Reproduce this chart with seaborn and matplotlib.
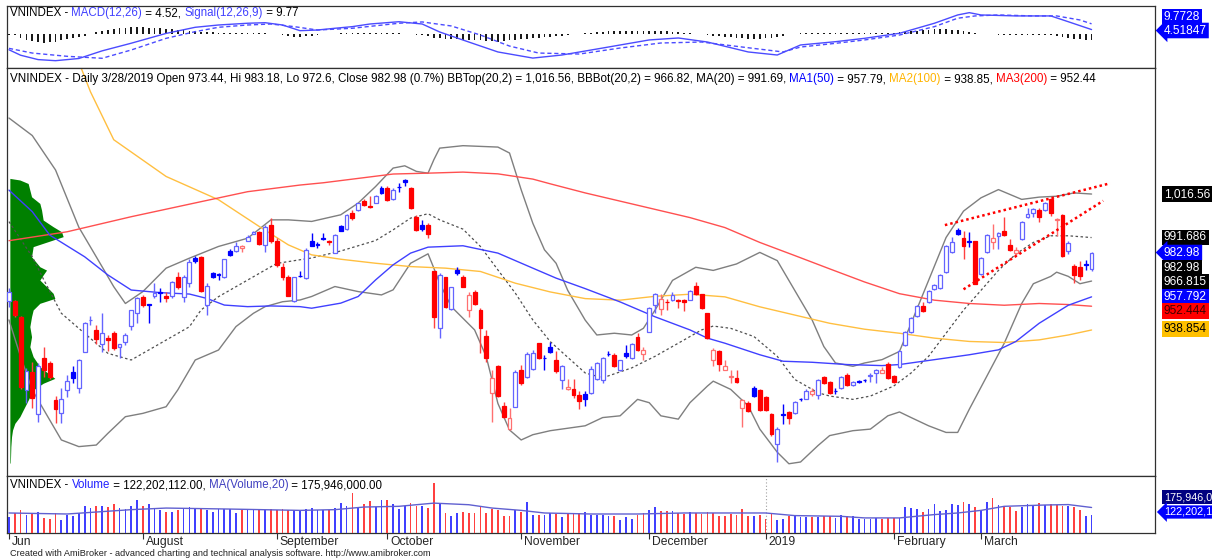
import numpy as np
import matplotlib
matplotlib.use("Agg")
import matplotlib.pyplot as plt
import seaborn as sns
from matplotlib.transforms import ScaledTranslation

# ---------------- data ----------------
open_ = [955.6, 955.6, 946.5, 904.6, 915.0, 891.0, 922.7, 920.0, 899.0, 891.6,
         904.6, 914.6, 905.5, 926.5, 944.5, 939.0, 931.0, 934.0, 937.0, 929.3,
         932.0, 941.0, 948.4, 957.9, 953.6, 958.0, 960.3, 958.3, 958.3, 969.0,
         957.5, 965.5, 979.8, 980.7, 953.1, 971.6, 970.5, 969.0, 984.0, 984.2,
         985.5, 990.0, 994.0, 995.0, 987.4, 999.0, 990.0, 975.0, 969.0, 955.7,
         969.8, 968.5, 990.0, 987.8, 991.0, 989.6, 983.0, 998.4, 996.5, 1006.0,
         1007.2, 1012.3, 1009.6, 1011.7, 1019.9, 1019.9, 1013.7, 1020.6, 1024.7, 1019.9,
         1003.7, 999.0, 999.0, 972.3, 939.9, 969.0, 950.7, 973.2, 969.4, 950.3,
         960.8, 950.3, 935.5, 902.7, 918.3, 895.4, 882.1, 895.0, 916.0, 911.8,
         916.4, 931.3, 923.1, 929.0, 921.9, 910.2, 904.9, 904.9, 901.5, 902.1,
         903.0, 910.6, 910.2, 925.4, 924.7, 916.2, 925.7, 922.8, 935.1, 925.3,
         937.9, 953.0, 950.6, 955.0, 956.2, 955.9, 956.2, 956.2, 963.8, 959.3,
         948.3, 921.9, 926.6, 916.2, 911.9, 911.5, 894.5, 897.3, 905.8, 904.5,
         900.7, 890.7, 873.7, 890.8, 892.1, 891.3, 899.4, 899.6, 902.4, 901.5,
         912.1, 909.0, 904.1, 905.8, 913.4, 907.2, 909.5, 910.1, 912.4, 914.3,
         914.2, 919.6, 912.8, 917.7, 930.4, 937.9, 946.8, 952.5, 954.9, 962.5,
         963.0, 971.9, 983.2, 995.9, 991.4, 989.6, 989.5, 970.6, 983.2, 988.9,
         992.7, 995.5, 987.6, 983.1, 990.8, 1003.4, 1005.9, 1007.2, 1007.2, 1013.5,
         1001.5, 1004.6, 984.2, 975.7, 974.7, 976.3, 973.44]
high = [962.7, 956.0, 947.0, 917.0, 920.8, 920.0, 929.3, 921.0, 901.0, 905.5,
        913.0, 918.0, 922.0, 943.6, 947.0, 941.7, 948.8, 936.0, 938.0, 931.0,
        937.0, 950.3, 957.9, 958.8, 953.9, 965.5, 962.7, 960.7, 966.8, 972.2,
        970.3, 979.2, 981.0, 981.1, 965.5, 972.2, 971.6, 979.3, 985.0, 989.3,
        987.4, 993.1, 995.4, 995.4, 998.8, 1002.7, 991.5, 977.0, 970.4, 969.4,
        972.3, 985.6, 994.2, 989.4, 994.2, 990.4, 993.6, 999.0, 1005.3, 1007.5,
        1011.7, 1013.7, 1015.6, 1016.1, 1020.9, 1020.9, 1019.9, 1022.8, 1025.1, 1020.5,
        1004.7, 1001.8, 999.9, 972.8, 971.3, 969.4, 963.7, 974.6, 970.4, 960.8,
        961.8, 951.3, 938.9, 916.0, 918.9, 897.9, 894.1, 916.0, 918.9, 926.5,
        927.5, 931.6, 924.6, 932.2, 926.6, 919.0, 910.6, 910.6, 904.0, 904.0,
        918.1, 920.4, 923.4, 926.6, 925.7, 921.9, 930.4, 931.3, 937.0, 929.0,
        952.1, 960.0, 959.6, 956.8, 960.6, 956.8, 956.8, 961.5, 966.3, 959.7,
        948.7, 928.5, 927.2, 921.9, 916.2, 916.2, 899.6, 898.3, 906.8, 904.9,
        901.1, 891.3, 883.2, 896.4, 892.6, 898.3, 900.2, 904.9, 905.8, 910.9,
        912.8, 909.6, 905.8, 912.4, 914.0, 909.6, 910.2, 910.9, 914.0, 916.6,
        917.5, 920.4, 913.4, 927.2, 938.5, 946.1, 953.0, 954.9, 961.5, 965.3,
        970.6, 987.6, 992.1, 997.0, 995.5, 994.6, 989.9, 980.4, 994.0, 999.3,
        994.6, 1003.4, 990.8, 986.5, 1001.2, 1008.7, 1008.7, 1008.4, 1012.1, 1014.4,
        1003.0, 1005.3, 989.9, 976.6, 978.5, 978.9, 983.18]
low = [952.2, 946.0, 905.0, 897.0, 894.0, 886.0, 912.2, 911.0, 885.5, 885.5,
       900.7, 908.4, 903.0, 926.0, 941.7, 931.0, 926.5, 927.0, 927.5, 922.7,
       930.3, 938.8, 942.7, 952.0, 942.7, 957.0, 955.0, 955.0, 957.0, 962.0,
       955.0, 963.6, 977.0, 960.7, 947.4, 968.3, 967.4, 968.8, 981.0, 983.6,
       983.6, 989.9, 993.7, 987.4, 983.6, 988.7, 975.0, 967.5, 958.0, 955.0,
       969.0, 968.0, 986.6, 986.0, 990.4, 987.5, 982.8, 995.2, 996.1, 1001.8,
       1007.0, 1009.5, 1008.5, 1011.4, 1016.7, 1012.3, 1013.3, 1018.0, 1020.9, 1008.0,
       995.7, 995.7, 991.3, 939.9, 934.1, 951.3, 950.3, 970.4, 963.3, 946.5,
       953.2, 925.5, 920.8, 886.5, 900.7, 888.4, 881.7, 894.6, 907.4, 911.2,
       916.0, 922.1, 916.0, 925.6, 914.3, 904.9, 904.5, 900.2, 893.9, 895.5,
       902.1, 910.2, 908.7, 923.8, 917.7, 915.3, 922.8, 922.3, 926.6, 921.9,
       937.6, 948.3, 947.4, 950.2, 955.5, 951.7, 949.8, 955.9, 958.7, 951.1,
       933.6, 918.1, 915.3, 915.8, 908.7, 908.7, 883.2, 892.0, 900.7, 892.6,
       892.6, 878.5, 863.4, 885.1, 885.1, 890.7, 898.3, 899.2, 901.1, 899.6,
       907.7, 902.1, 902.1, 905.3, 906.8, 906.8, 908.7, 909.0, 909.0, 908.7,
       914.0, 910.9, 908.7, 917.2, 929.8, 937.4, 946.4, 949.3, 954.4, 961.9,
       962.5, 971.3, 982.7, 993.3, 979.5, 986.5, 964.9, 970.0, 982.7, 985.1,
       985.1, 992.7, 984.2, 981.4, 990.2, 1003.1, 1003.4, 1000.8, 1006.8, 1004.0,
       992.7, 980.8, 982.3, 965.7, 967.2, 972.9, 972.6]
close = [960.7, 947.4, 906.5, 915.6, 900.0, 918.0, 916.0, 912.0, 893.5, 899.2,
         909.9, 911.2, 921.7, 942.7, 944.8, 933.5, 937.0, 933.0, 928.4, 930.6,
         936.0, 950.0, 957.3, 953.1, 953.3, 959.8, 960.0, 957.0, 966.5, 963.2,
         969.0, 977.9, 978.3, 961.3, 964.2, 969.0, 970.3, 979.2, 981.7, 986.8,
         986.6, 992.2, 995.0, 988.0, 997.9, 989.5, 976.0, 969.0, 958.4, 969.0,
         969.5, 984.7, 987.0, 987.6, 990.9, 989.4, 993.3, 995.7, 1004.7, 1002.8,
         1011.4, 1010.4, 1009.4, 1015.2, 1017.1, 1012.9, 1019.0, 1020.3, 1023.6, 1008.5,
         996.1, 996.4, 993.8, 946.5, 970.4, 952.2, 963.3, 971.3, 963.7, 958.9,
         953.8, 939.9, 922.7, 911.2, 901.1, 888.9, 888.5, 915.1, 908.4, 925.0,
         925.5, 922.7, 922.8, 926.5, 915.3, 918.5, 906.4, 901.5, 898.3, 899.2,
         916.6, 920.0, 922.8, 925.1, 918.1, 921.5, 923.8, 930.9, 927.5, 927.2,
         951.7, 959.3, 956.8, 954.8, 958.7, 955.7, 954.7, 961.2, 959.3, 951.7,
         934.2, 927.5, 919.6, 918.5, 912.8, 909.0, 898.9, 892.6, 901.1, 893.2,
         892.9, 879.4, 882.2, 890.5, 888.3, 897.7, 899.2, 904.0, 903.8, 910.2,
         908.3, 902.6, 903.9, 912.1, 907.2, 909.0, 909.4, 910.0, 913.4, 916.2,
         915.9, 911.5, 909.0, 926.6, 937.9, 945.5, 952.5, 949.8, 961.2, 964.4,
         970.0, 987.0, 988.9, 994.0, 987.0, 989.4, 965.3, 980.0, 993.3, 991.7,
         994.2, 993.3, 984.6, 984.3, 1000.8, 1005.0, 1007.8, 1003.4, 1011.6, 1005.9,
         1002.1, 981.4, 988.3, 970.0, 969.5, 976.1, 982.98]
volume_m = [108, 138, 156, 122, 131, 142, 104, 97, 138, 92,
            127, 115, 138, 184, 172, 184, 189, 179, 202, 172,
            165, 189, 230, 184, 202, 165, 156, 142, 142, 161,
            172, 179, 165, 172, 161, 142, 165, 165, 165, 138,
            156, 165, 161, 161, 156, 165, 161, 165, 156, 161,
            156, 165, 172, 156, 156, 156, 172, 206, 184, 276,
            179, 202, 219, 179, 226, 226, 202, 165, 184, 206,
            189, 184, 172, 345, 206, 138, 120, 138, 142, 138,
            138, 184, 138, 165, 161, 115, 120, 157, 145, 214,
            122, 122, 127, 138, 131, 111, 131, 131, 138, 145,
            127, 127, 122, 115, 115, 92, 108, 97, 122, 138,
            157, 178, 155, 150, 150, 138, 131, 145, 138, 131,
            145, 138, 120, 115, 134, 122, 168, 115, 120, 127,
            97, 138, 92, 97, 115, 120, 108, 108, 108, 108,
            115, 115, 104, 122, 115, 115, 99, 99, 99, 104,
            99, 104, 104, 104, 178, 173, 166, 145, 168, 201,
            155, 161, 203, 196, 214, 203, 178, 157, 214, 242,
            191, 189, 178, 150, 178, 201, 196, 208, 196, 201,
            191, 189, 184, 180, 157, 115, 122.2]
volma_i = [0, 10, 21, 27, 38, 50, 56, 61, 67, 73, 79, 83, 88, 92, 100, 108, 116,
           123, 130, 135, 143, 147, 153, 159, 163, 167, 171, 178, 182, 186]
volma_v = [138, 131, 161, 172, 165, 156, 161, 179, 184, 206, 195, 172, 156, 138, 131,
           131, 138, 138, 138, 120, 115, 104, 104, 127, 138, 156, 184, 193, 196, 175.9]

bbu_i = [0, 4, 8, 12, 16, 18, 20, 23, 27, 31, 36, 41, 45, 48, 52, 57, 60, 63, 66, 68,
         70, 72, 73, 74, 78, 84, 86, 88, 90, 92, 94, 96, 99, 101, 104, 107, 109, 111, 114, 118,
         121, 125, 129, 132, 135, 138, 140, 142, 145, 147, 150, 153, 155, 158, 161, 164, 167,
         170, 172, 174, 177, 180, 183, 186]
bbu_v = [1060.0, 1050.0, 1030.3, 997.6, 975.0, 963.6, 954.0, 960.8, 974.2, 979.9,
         986.6, 991.3, 1001.8, 1001.8, 1000.9, 1004.7, 1011.4, 1020.9, 1031.4, 1032.7,
         1029.5, 1028.5, 1036.2, 1042.8, 1044.2, 1043.4, 1040.0, 1019.0, 999.9, 984.7,
         977.0, 961.5, 944.5, 936.0, 937.0, 936.0, 939.8, 950.2, 967.2, 974.7,
         972.9, 976.6, 983.2, 978.5, 961.5, 944.5, 929.4, 920.0, 918.1, 920.0,
         921.9, 926.6, 942.7, 967.2, 991.7, 1006.8, 1014.4, 1019.1, 1016.3, 1013.5,
         1014.8, 1015.3, 1017.2, 1016.56]
bbl_i = [0, 2, 4, 6, 9, 12, 15, 17, 20, 23, 27, 29, 32, 36, 39, 42, 44, 47, 50, 52,
         56, 60, 64, 66, 69, 72, 73, 74, 76, 80, 82, 84, 86, 88, 90, 93, 99, 102, 105, 108,
         110, 112, 115, 117, 120, 121, 124, 127, 129, 132, 134, 136, 139, 141, 145, 148, 151,
         153, 155, 158, 161, 163, 165, 168, 171, 174, 176, 179, 180, 182, 184, 186]
bbl_v = [944.6, 923.6, 904.6, 893.1, 876.0, 872.2, 873.1, 879.8, 889.3, 891.2,
         895.0, 904.6, 921.7, 927.4, 940.8, 948.4, 952.2, 955.0, 956.0, 958.0,
         963.7, 960.8, 958.9, 961.8, 977.0, 982.4, 974.2, 965.6, 952.2, 938.9,
         923.6, 896.9, 881.7, 876.0, 879.0, 881.3, 884.1, 888.8, 889.8, 899.2,
         897.3, 889.8, 887.9, 897.3, 906.8, 909.6, 904.9, 895.5, 882.2, 869.0,
         862.4, 863.4, 872.8, 878.5, 881.3, 882.2, 889.8, 892.0, 888.8, 884.1,
         880.3, 880.3, 893.6, 912.4, 931.3, 954.0, 965.3, 969.5, 971.9, 969.5,
         965.3, 966.82]
ma20_i = [0, 4, 6, 9, 13, 17, 21, 24, 27, 31, 33, 36, 39, 42, 46, 50, 52, 57, 63, 66,
          69, 72, 74, 78, 81, 84, 87, 90, 93, 99, 102, 107, 111, 116, 119, 121, 124, 128,
          132, 135, 139, 141, 145, 148, 152, 155, 158, 161, 164, 167, 170, 173, 176, 179,
          182, 186]
ma20_v = [1000.8, 980.7, 967.4, 948.4, 936.9, 925.5, 921.7, 927.4, 933.1, 940.7,
          950.3, 957.9, 963.6, 969.3, 976.9, 979.0, 980.0, 984.0, 990.0, 996.1,
          1002.8, 1005.3, 1001.8, 996.5, 986.6, 973.2, 959.9, 944.6, 932.2, 914.3,
          911.5, 917.2, 923.8, 933.2, 938.9, 941.1, 939.8, 935.1, 923.8, 910.6,
          903.0, 901.1, 899.2, 901.1, 906.8, 914.3, 923.8, 937.0, 950.2, 961.5,
          972.9, 982.3, 988.9, 992.7, 992.7, 991.69]
ma50_i = [0, 4, 7, 13, 17, 21, 26, 31, 34, 37, 41, 45, 50, 52, 57, 60, 63, 66, 69, 72,
          78, 84, 90, 94, 99, 105, 111, 117, 120, 123, 129, 133, 138, 144, 150, 153, 159,
          165, 170, 173, 177, 182, 186]
ma50_v = [1018.8, 1006.5, 993.1, 980.7, 970.3, 961.7, 960.2, 959.4, 956.9, 953.1,
          952.2, 952.6, 952.2, 951.3, 954.2, 958.0, 967.5, 976.1, 982.8, 986.2,
          987.0, 982.8, 974.2, 968.5, 962.5, 954.9, 946.4, 938.9, 934.2, 931.3,
          924.7, 921.0, 920.4, 919.1, 918.5, 919.1, 921.9, 924.7, 927.5, 932.3,
          942.7, 953.0, 957.79]
ma100_i = [0, 12, 14, 18, 27, 36, 43, 48, 52, 57, 63, 69, 75, 81, 87, 93, 99, 105, 111, 117,
           123, 129, 135, 141, 147, 153, 159, 165, 171, 177, 182, 186]
ma100_v = [1170.0, 1092.0, 1075.0, 1047.6, 1026.6, 1013.3, 998.0, 987.5, 981.8, 979.3, 977.0,
           975.1, 974.2, 972.3, 965.6, 960.6, 956.8, 955.9, 958.1, 959.3, 957.8,
           952.1, 947.4, 942.7, 939.3, 937.0, 934.2, 932.3, 931.7, 933.2, 936.0, 938.85]
ma200_i = [0, 10, 21, 33, 41, 50, 54, 60, 66, 72, 78, 84, 90, 93, 99, 105, 111, 117, 123,
           129, 135, 141, 147, 153, 159, 165, 171, 177, 182, 186]
ma200_v = [989.9, 995.0, 1003.6, 1012.2, 1017.9, 1021.7, 1023.0, 1025.5, 1028.0, 1028.5,
           1029.1, 1028.1, 1025.1, 1022.4, 1017.2, 1012.5, 1007.8, 1003.1, 997.4, 988.9,
           981.4, 973.8, 966.3, 959.6, 955.9, 954.0, 953.0, 954.0, 953.4, 952.44]
trend_up_i = [160.8, 189.2]
trend_up_v = [998.8, 1022.7]
trend_lo_i = [164.0, 188.0]
trend_lo_v = [962.1, 1012.7]

prof_price = [1025.5, 1024.6, 1022.6, 1018.8, 1015.0, 1011.2, 1007.4, 1001.7, 997.9, 995.0,
              992.2, 990.3, 986.5, 980.7, 975.0, 973.1, 970.3, 967.4, 963.6, 959.8,
              956.9, 954.1, 950.3, 946.5, 940.8, 935.0, 929.3, 923.6, 917.9, 914.1,
              911.2, 908.4, 904.6, 900.7, 896.9, 893.1, 889.3, 885.5, 881.7, 877.9,
              872.2, 866.5, 862.8]
prof_vol = [0, 10, 18.3, 20, 21.7, 30, 31.7, 33.3, 43.3, 51.7,
            53.3, 43.3, 23.3, 21.7, 30, 36.7, 33.3, 30, 36.7, 43.3,
            45, 30, 23.3, 21.7, 20, 21.7, 20, 23.3, 30, 38.3,
            45, 33.3, 23.3, 20, 16.7, 13.3, 10, 5, 2.7, 1.7,
            1, 0.7, 0.5]

macd_i = [0, 2, 5, 8, 12, 16, 21, 27, 32, 36, 41, 44, 47, 50, 53, 56, 59, 62, 67, 71,
          74, 79, 84, 90, 95, 102, 110, 115, 120, 127, 132, 136, 142, 147, 153, 159, 163,
          165, 167, 173, 179, 182, 186]
macd_v = [-14, -19, -23, -24, -22, -15, -8, 1, 6.6, 8.7, 10.3, 10.8, 8.7, 3.5, 4.1, 5.7,
          7.2, 9.6, 11.7, 9.6, 2.3, -6.9, -16, -21.6, -18.8, -12.4, -5, -3.2, -6.9, -16,
          -18.8, -9.6, -6.6, -3.5, 1.1, 10.3, 17.9, 20, 17.9, 17, 17, 11.7, 4.52]
signal_i = [0, 4, 10, 16, 21, 27, 32, 36, 41, 45, 49, 53, 59, 67, 71, 76, 81, 86, 91, 98,
            105, 112, 119, 126, 133, 136, 142, 147, 153, 159, 163, 166, 170, 176, 180, 184, 186]
signal_v = [-12.7, -17, -20, -21.8, -14.2, -3.5, 2.6, 6.6, 8.7, 9.6, 7.2, 4.1, 5.7, 10.3,
            11.5, 7.8, -0.5, -10.6, -17, -17.9, -12.4, -7.8, -6.9, -11.5, -16, -11.5, -8.1,
            -5, -0.5, 7.2, 14.9, 17, 17.9, 17, 17, 13.3, 9.77]
macd_hist = [-0.5, -0.5, -3, -5, -6, -7, -7.5, -7, -6.5, -5.5, -4.5, -3,
             -2, -1, 0.5,
             2, 3, 4, 5, 5.5, 6, 6.5, 6.5, 6.5, 6, 6, 5.5, 5, 5, 4.5, 4, 3.5, 3, 2.5,
             2.2, 2, 1.8, 1.6, 1.5, 1.5, 1.4, 1.3, 1.2, 1.1, 1, 0.8,
             0.3, -0.5, -1.5, -2, -2.2, -1.8, -1.2,
             -0.5, 0.2, 0.5, 0.8, 1, 1.2, 1.3, 1.4, 1.5, 1.5, 1.4, 1.3, 1.2, 1.1, 1, 0.9,
             0.5, -0.2, -0.8, -1.5,
             -3, -3.5, -4, -4.5, -4.5, -5, -5, -5.5, -5.5, -6, -6, -6.5, -6, -5.5, -5, -4.5,
             -4, -3.5, -3, -2.5, -2, -1.5, -1,
             -0.5, 0, 0.5, 1, 1.5, 2, 2.5, 3, 3, 3, 3, 3, 3, 3, 3,
             3, 3, 3, 2.5, 2, 1.5, 1, 0.5, 0, -0.5, -1, -1.5, -2, -2.5, -3,
             -3.5, -4, -4, -4, -3.5, -3, -2, -1, 0, 0.5,
             1, 1.2, 1.5, 1.5, 1.6, 1.6, 1.6, 1.6, 1.6, 1.6, 1.6, 1.6, 1.6, 1.6, 1.6, 1.6, 1.6,
             2, 2.5, 3, 3.5, 4, 4.5, 5, 5, 5, 4.5, 4, 3, 2, 1,
             0.5, 0.2, 0, -0.2, -0.3, -0.3, -0.3, -0.3, -0.3, -0.3, -0.3, -0.5, -0.8,
             -1.5, -2.5, -3.5, -4, -4.5, -5, -5.25]

month_idx = [0, 23, 46, 65, 88, 110, 130, 152, 167]
month_lbl = ['Jun', 'August', 'September', 'October', 'November', 'December',
             '2019', 'February', 'March']

# ---------------- figure ----------------
sns.set_theme(style="white")
plt.rcParams['font.family'] = ['Liberation Sans', 'DejaVu Sans']

W, H = 1212, 559
fig = plt.figure(figsize=(W / 100, H / 100), dpi=100)
fig.patch.set_facecolor('white')


def rect(l, t, r, b):
    return [l / W, 1 - b / H, (r - l) / W, (b - t) / H]


ax_m = fig.add_axes(rect(7, 6, 1155, 68))
ax_p = fig.add_axes(rect(7, 68, 1155, 476))
ax_v = fig.add_axes(rect(7, 476, 1155, 533))
for ax in (ax_m, ax_p, ax_v):
    ax.set_xlim(-0.34, 196.9)
    ax.set_facecolor('white')
    ax.set_yticks([])
    ax.grid(False)
    for s in ax.spines.values():
        s.set_color('#303030')
        s.set_linewidth(0.9)
ax_m.set_xticks([])
ax_p.set_xticks([])
ax_m.set_ylim(-30.7, 26.1)
ax_p.set_ylim(855.4, 1088.6)
ax_v.set_ylim(0, 393)


def sline(ax, xs, ys, **kw):
    sns.lineplot(x=xs, y=ys, ax=ax, estimator=None, sort=False, legend=False, **kw)


# ---- price panel ----
o = np.array(open_); hi = np.array(high); lo = np.array(low); c = np.array(close)
n = len(c)
idx = np.arange(n)
prev = np.concatenate([[c[0] - 1], c[:-1]])
up = c >= prev
hollow = c > o
BLUE_L, BLUE, RED, RED_L = '#6464ff', '#0000ff', '#ff0000', '#ff7070'
edge = np.where(up, np.where(hollow, BLUE_L, BLUE), np.where(hollow, RED_L, RED))
face = np.where(hollow, 'white', edge)
wick = np.where(up, np.where(hollow, BLUE_L, BLUE), np.where(hollow, RED_L, '#ff4040'))

ax_p.fill_betweenx(prof_price, 0.15, 0.15 + np.array(prof_vol) / 5.82,
                   color='#008000', lw=0, zorder=1)
sline(ax_p, bbu_i, bbu_v, color='#7f7f7f', linewidth=1.0, zorder=2)
sline(ax_p, bbl_i, bbl_v, color='#7f7f7f', linewidth=1.0, zorder=2)
sline(ax_p, ma20_i, ma20_v, color='#505050', linewidth=0.9, linestyle=(0, (2, 2)), zorder=2)
sline(ax_p, ma100_i, ma100_v, color='#ffbf40', linewidth=1.0, zorder=2)
sline(ax_p, ma200_i, ma200_v, color='#ff5050', linewidth=1.0, zorder=2)
sline(ax_p, ma50_i, ma50_v, color='#4040ff', linewidth=1.0, zorder=2)
ax_p.plot(trend_up_i, trend_up_v, color='#ff0000', lw=1.8, ls=(0, (1, 1.2)), zorder=6)
ax_p.plot(trend_lo_i, trend_lo_v, color='#ff0000', lw=1.8, ls=(0, (1, 1.2)), zorder=6)

ax_p.vlines(idx, lo, hi, colors=wick, linewidth=1.0, zorder=4)
ax_p.bar(idx, np.maximum(np.abs(c - o), 0.3), bottom=np.minimum(o, c), width=0.66,
         color=face, edgecolor=edge, linewidth=0.9, zorder=5)

# ---- volume panel ----
vcol = np.where(up, '#4040ff', '#ff4040')
ax_v.bar(idx, volume_m, width=0.3, color=vcol, linewidth=0, zorder=3)
sline(ax_v, volma_i, volma_v, color='#6060d0', linewidth=1.0, zorder=4)
ax_v.axvline(month_idx[6], color='#a0a0a0', lw=0.8, ls=(0, (1, 2)), zorder=1)
ax_v.set_xticks(month_idx)
ax_v.set_xticklabels(month_lbl, fontsize=8.7)
ax_v.tick_params(axis='x', direction='out', length=4.5, width=0.8, color='#303030',
                 pad=-2.2, bottom=True)
for lab in ax_v.get_xticklabels():
    lab.set_ha('left')
    lab.set_transform(lab.get_transform() + ScaledTranslation(3 / 100, 0, fig.dpi_scale_trans))

# ---- MACD panel ----
ax_m.bar(idx, macd_hist, width=0.3, color='#1a1a1a', linewidth=0, zorder=2)
sline(ax_m, macd_i, macd_v, color='#4b4bff', linewidth=1.0, zorder=3)
sline(ax_m, signal_i, signal_v, color='#4b4bff', linewidth=1.0, linestyle=(0, (3, 2)), zorder=3)

# ---------------- texts ----------------
fig.canvas.draw()
renderer = fig.canvas.get_renderer()


def twidth(s, size):
    a = fig.text(0, 0, s + '|', fontsize=size)
    b = fig.text(0, 0, '|', fontsize=size)
    w = a.get_window_extent(renderer).width - b.get_window_extent(renderer).width
    a.remove(); b.remove()
    return w


def seg_text(x_px, y_px, parts, size):
    x = x_px
    for s, col in parts:
        fig.text(x / W, 1 - y_px / H, s, color=col, fontsize=size, ha='left', va='center')
        x += twidth(s, size)


K = '#000000'
seg_text(10, 13, [('VNINDEX - ', K), ('MACD(12,26)', '#4040ff'), (' = 4.52, ', K),
                  ('Signal(12,26,9)', '#4040ff'), (' = 9.77', K)], 8.3)
seg_text(10, 79, [('VNINDEX - Daily 3/28/2019 Open 973.44, Hi 983.18, Lo 972.6, Close 982.98 (0.7%) '
                   'BBTop(20,2) = 1,016.56, BBBot(20,2) = 966.82, MA(20) = 991.69, ', K),
                  ('MA1(50)', '#0000ff'), (' = 957.79, ', K), ('MA2(100)', '#ffb400'),
                  (' = 938.85, ', K), ('MA3(200)', '#ff0000'), (' = 952.44', K)], 8.38)
seg_text(10, 485, [('VNINDEX - ', K), ('Volume', '#2020ff'), (' = 122,202,112.00, ', K),
                   ('MA(Volume,20)', '#4040c0'), (' = 175,946,000.00', K)], 8.3)
fig.text(10 / W, 1 - 553 / H,
         'Created with AmiBroker - advanced charting and technical analysis software. http://www.amibroker.com',
         fontsize=6.6, color='#202020', ha='left', va='center')


def rlabel(y_px, s, fc, tc='white', arrow=False, size=8.6):
    style = 'larrow,pad=0.15' if arrow else 'square,pad=0.15'
    fig.text(1164 / W, 1 - y_px / H, s, fontsize=size, color=tc, ha='left', va='center',
             bbox=dict(boxstyle=style, fc=fc, ec='none'))


rlabel(16.5, '9.7728', '#0000ff')
rlabel(30.5, '4.51847', '#0000ff', arrow=True)
rlabel(194, '1,016.56', '#000000')
rlabel(237.5, '991.686', '#000000')
rlabel(252.5, '982.98', '#0000ff', arrow=True)
rlabel(267.5, '982.98', '#000000')
rlabel(282, '966.815', '#000000')
rlabel(297, '957.792', '#0000ff')
rlabel(311, '952.444', '#ff0000', tc='#400000')
rlabel(329, '938.854', '#ffc000', tc='#000000')
rlabel(497, '175,946,0', '#000080', size=7.8)
rlabel(512, '122,202,1', '#0000ff', arrow=True, size=7.8)

fig.savefig('out.png', dpi=100, facecolor='white')
